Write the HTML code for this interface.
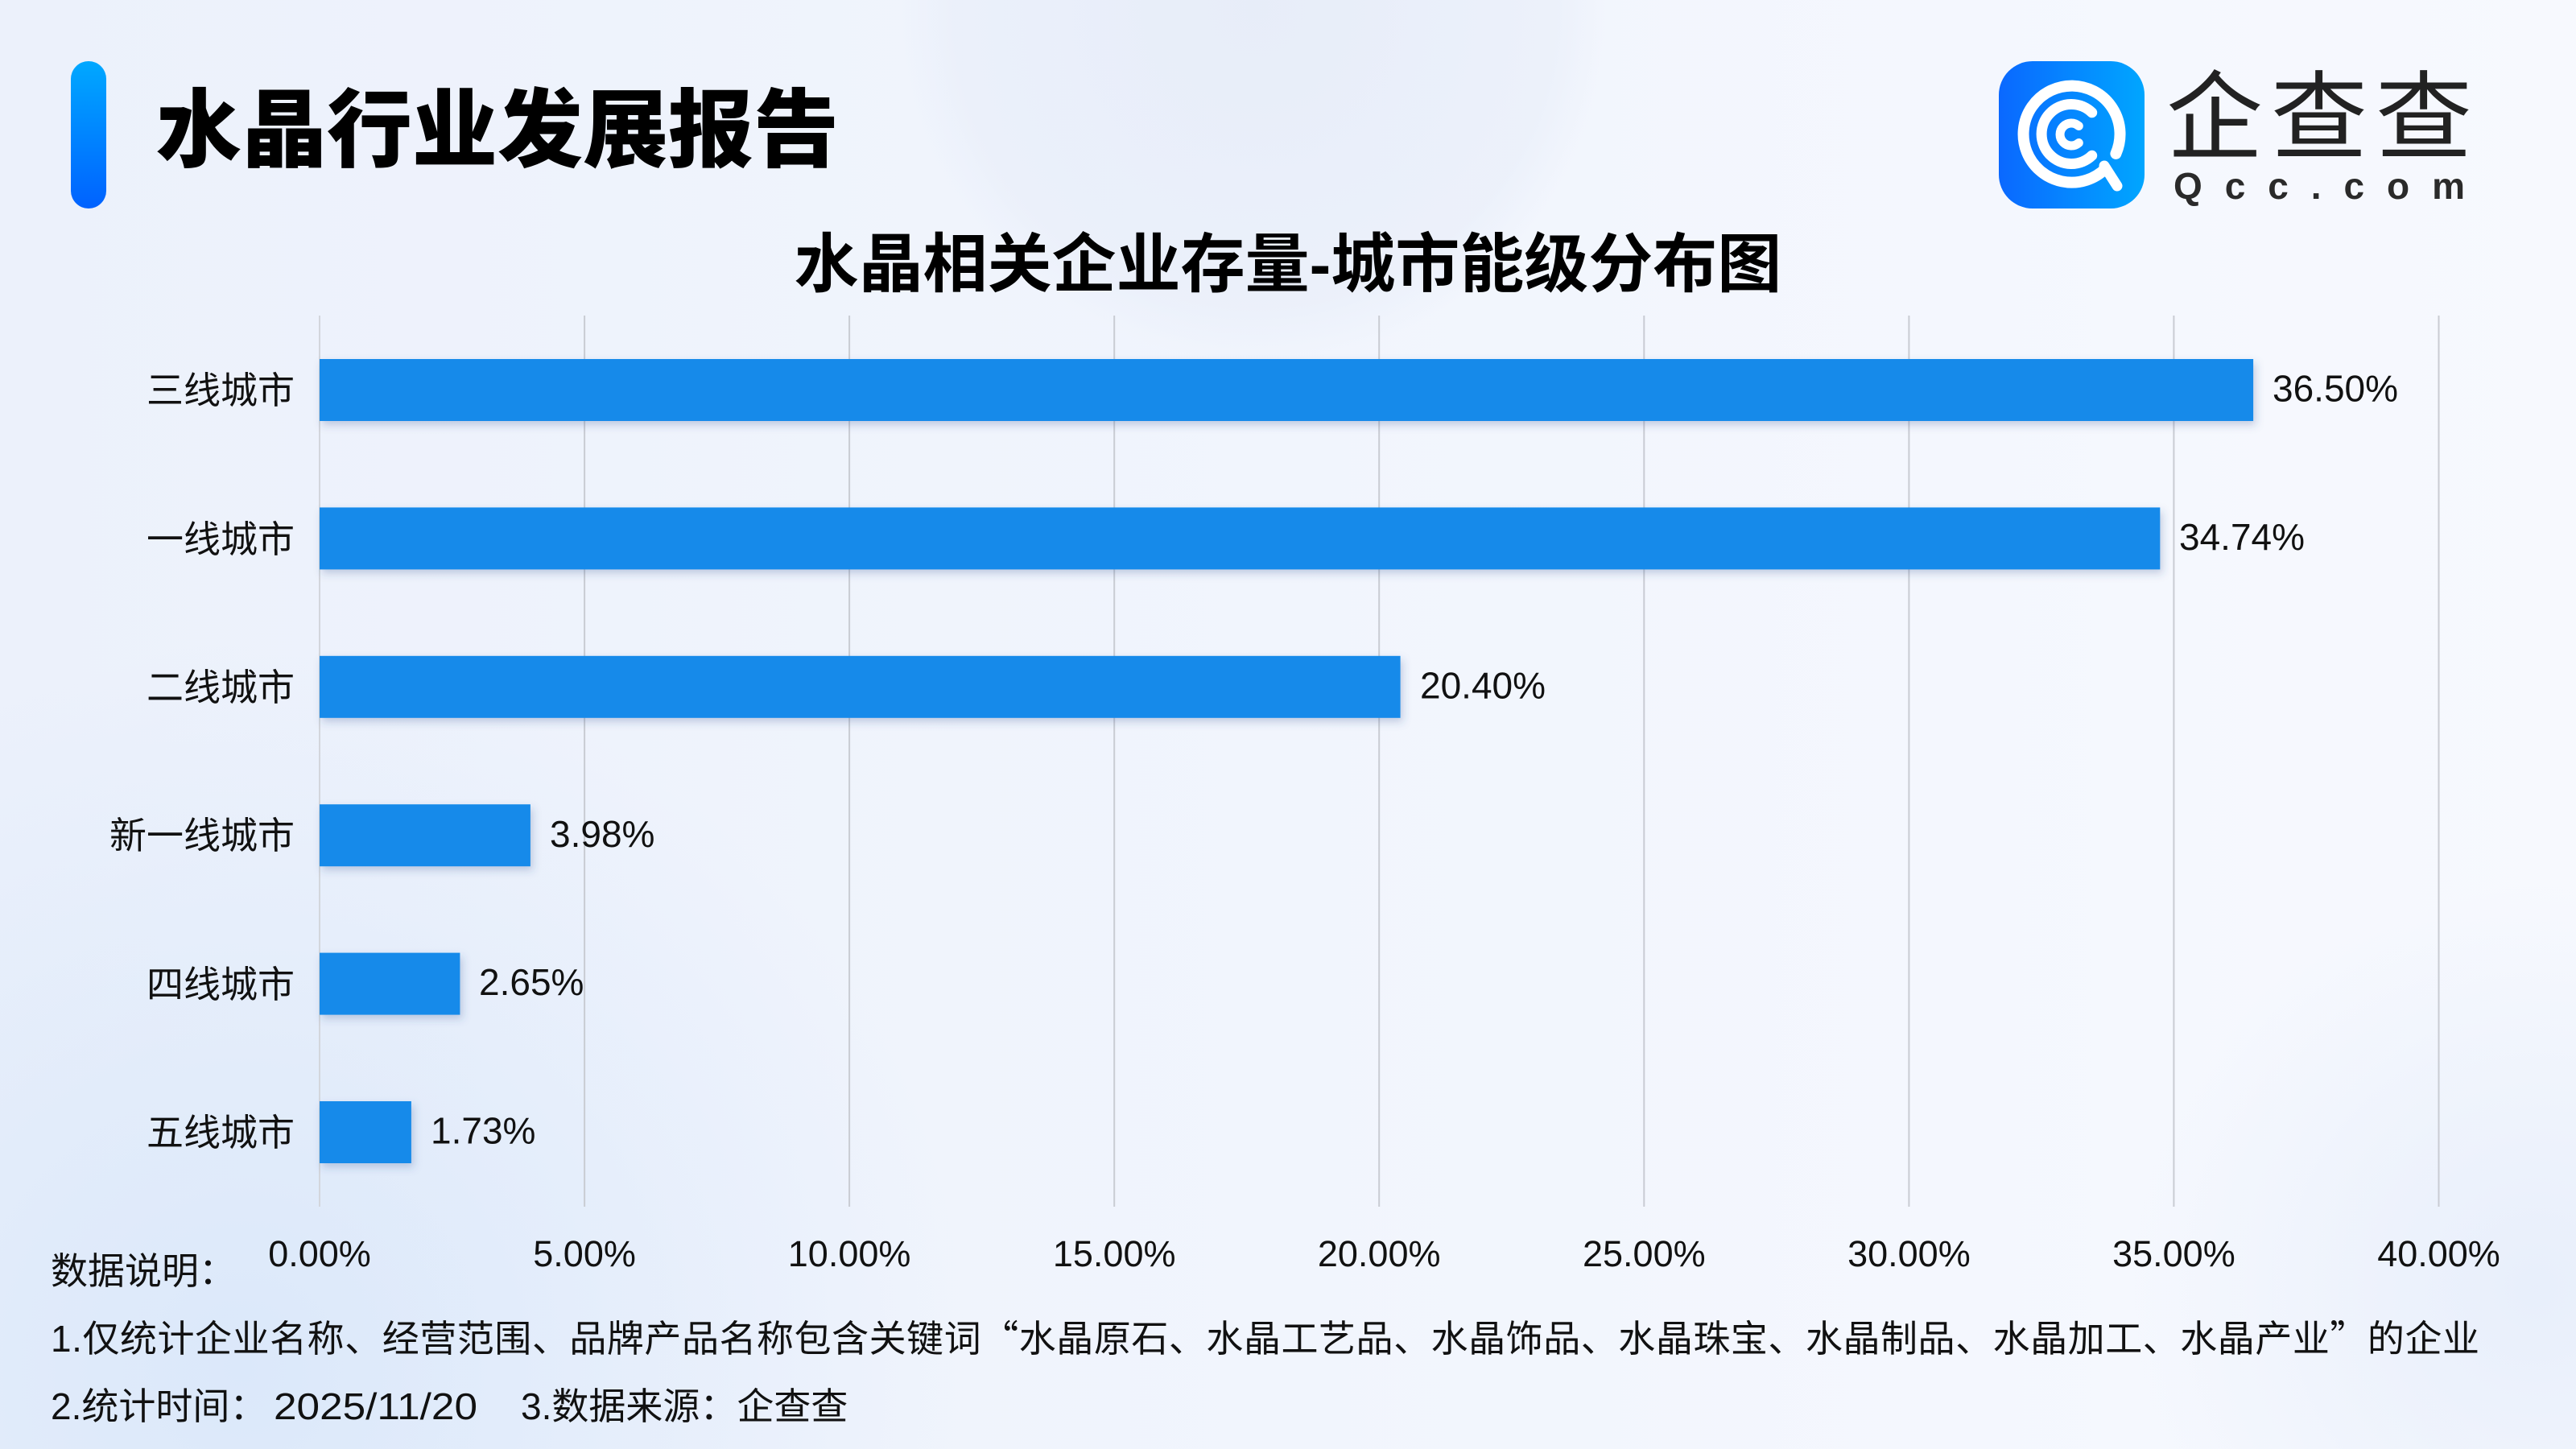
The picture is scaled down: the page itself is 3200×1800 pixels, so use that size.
<!DOCTYPE html>
<html>
<head>
<meta charset="utf-8">
<style>
html,body{margin:0;padding:0;width:3200px;height:1800px;overflow:hidden;}
svg{display:block;}
text{font-family:"Liberation Sans","Noto Sans CJK SC",sans-serif;fill:#111;}
.cjk{font-family:"Noto Sans CJK SC","Liberation Sans",sans-serif;}
</style>
</head>
<body>
<svg width="3200" height="1800" viewBox="0 0 3200 1800" xmlns="http://www.w3.org/2000/svg">
<defs>
  <linearGradient id="bg" x1="0" y1="0" x2="1" y2="0">
    <stop offset="0" stop-color="#ECF1FB"/>
    <stop offset="0.5" stop-color="#F1F5FD"/>
    <stop offset="1" stop-color="#F7F9FE"/>
  </linearGradient>
  <radialGradient id="blobBL" cx="300" cy="1700" r="900" gradientUnits="userSpaceOnUse">
    <stop offset="0" stop-color="#D9E7FA" stop-opacity="0.9"/>
    <stop offset="1" stop-color="#D9E7FA" stop-opacity="0"/>
  </radialGradient>
  <radialGradient id="blobTC" cx="1560" cy="10" r="440" gradientUnits="userSpaceOnUse">
    <stop offset="0" stop-color="#E6ECF8" stop-opacity="0.9"/>
    <stop offset="0.85" stop-color="#E6ECF8" stop-opacity="0.5"/>
    <stop offset="1" stop-color="#E6ECF8" stop-opacity="0"/>
  </radialGradient>
  <radialGradient id="blobBR" cx="3150" cy="1600" r="500" gradientUnits="userSpaceOnUse">
    <stop offset="0" stop-color="#E4ECFA" stop-opacity="0.8"/>
    <stop offset="1" stop-color="#E4ECFA" stop-opacity="0"/>
  </radialGradient>
  <linearGradient id="accent" x1="0" y1="0" x2="0" y2="1">
    <stop offset="0" stop-color="#00A8FF"/>
    <stop offset="1" stop-color="#0062FF"/>
  </linearGradient>
  <linearGradient id="logo" x1="0" y1="0" x2="1" y2="0">
    <stop offset="0" stop-color="#0A68FF"/>
    <stop offset="1" stop-color="#00A6FF"/>
  </linearGradient>
  <filter id="sh" x="-10%" y="-30%" width="130%" height="180%">
    <feDropShadow dx="3" dy="5" stdDeviation="5" flood-color="#34508F" flood-opacity="0.25"/>
  </filter>
</defs>

<!-- background -->
<rect x="0" y="0" width="3200" height="1800" fill="url(#bg)"/>
<rect x="0" y="0" width="3200" height="1800" fill="url(#blobBL)"/>
<rect x="0" y="0" width="3200" height="1800" fill="url(#blobTC)"/>
<rect x="0" y="0" width="3200" height="1800" fill="url(#blobBR)"/>

<!-- header -->
<rect x="88" y="76" width="44" height="183" rx="22" ry="22" fill="url(#accent)"/>
<text x="194" y="199" font-size="106" font-weight="900" class="cjk" style="fill:#000">水晶行业发展报告</text>

<!-- logo -->
<rect x="2483" y="76" width="181" height="183" rx="42" ry="42" fill="url(#logo)"/>
<g fill="none" stroke="#ffffff" stroke-linecap="round">
  <path d="M 2615.5 209.5 A 60 60 0 1 1 2628.4 190.9" stroke-width="14"/>
  <path d="M 2614 206 L 2630 231" stroke-width="13"/>
  <path d="M 2598.7 139.8 A 37 37 0 1 0 2598.7 193.2" stroke-width="13"/>
  <path d="M 2582.3 156.5 A 14 14 0 1 0 2582.3 177.5" stroke-width="11"/>
</g>
<text x="2691" y="188" font-size="120" letter-spacing="10" class="cjk" style="fill:#222">企查查</text>
<text x="2700" y="247" font-size="46" font-weight="700" textLength="362" lengthAdjust="spacing" style="fill:#2a2a2a">Qcc.com</text>

<!-- chart title -->
<text x="1600" y="356" font-size="80" font-weight="700" text-anchor="middle" style="fill:#000">水晶相关企业存量-城市能级分布图</text>

<!-- gridlines -->
<g stroke-width="2">
  <line x1="397" y1="392" x2="397" y2="1499" stroke="#D3D6DC"/>
  <line x1="726.1" y1="392" x2="726.1" y2="1499" stroke="#C9CCD3"/>
  <line x1="1055.1" y1="392" x2="1055.1" y2="1499" stroke="#C9CCD3"/>
  <line x1="1384.2" y1="392" x2="1384.2" y2="1499" stroke="#C9CCD3"/>
  <line x1="1713.2" y1="392" x2="1713.2" y2="1499" stroke="#C9CCD3"/>
  <line x1="2042.3" y1="392" x2="2042.3" y2="1499" stroke="#C9CCD3"/>
  <line x1="2371.4" y1="392" x2="2371.4" y2="1499" stroke="#C9CCD3"/>
  <line x1="2700.4" y1="392" x2="2700.4" y2="1499" stroke="#C9CCD3"/>
  <line x1="3029.5" y1="392" x2="3029.5" y2="1499" stroke="#C9CCD3"/>
</g>

<!-- bars -->
<g fill="#158AEA" filter="url(#sh)">
  <rect x="397" y="446" width="2402.1" height="77"/>
  <rect x="397" y="630.4" width="2286.3" height="77"/>
  <rect x="397" y="814.8" width="1342.6" height="77"/>
  <rect x="397" y="999.2" width="261.9" height="77"/>
  <rect x="397" y="1183.6" width="174.4" height="77"/>
  <rect x="397" y="1368" width="113.9" height="77"/>
</g>

<!-- category labels -->
<g font-size="46" text-anchor="end">
  <text x="366" y="501">三线城市</text>
  <text x="366" y="686">一线城市</text>
  <text x="366" y="870">二线城市</text>
  <text x="366" y="1054">新一线城市</text>
  <text x="366" y="1239">四线城市</text>
  <text x="366" y="1423">五线城市</text>
</g>

<!-- value labels -->
<g font-size="46">
  <text x="2823" y="498.5">36.50%</text>
  <text x="2707" y="683">34.74%</text>
  <text x="1764" y="867.5">20.40%</text>
  <text x="683" y="1052">3.98%</text>
  <text x="595" y="1236">2.65%</text>
  <text x="535" y="1420.5">1.73%</text>
</g>

<!-- x axis labels -->
<g font-size="45" text-anchor="middle">
  <text x="397" y="1573">0.00%</text>
  <text x="726.1" y="1573">5.00%</text>
  <text x="1055.1" y="1573">10.00%</text>
  <text x="1384.2" y="1573">15.00%</text>
  <text x="1713.2" y="1573">20.00%</text>
  <text x="2042.3" y="1573">25.00%</text>
  <text x="2371.4" y="1573">30.00%</text>
  <text x="2700.4" y="1573">35.00%</text>
  <text x="3029.5" y="1573">40.00%</text>
</g>

<!-- footnotes -->
<g font-size="46">
  <text x="63" y="1595">数据说明：</text>
  <text x="63" y="1679" textLength="3017" lengthAdjust="spacing">1.仅统计企业名称、经营范围、品牌产品名称包含关键词<tspan class="cjk">“</tspan>水晶原石、水晶工艺品、水晶饰品、水晶珠宝、水晶制品、水晶加工、水晶产业<tspan class="cjk">”</tspan>的企业</text>
  <text x="63" y="1763">2.统计时间：</text>
  <text x="340" y="1763" textLength="253" lengthAdjust="spacingAndGlyphs">2025/11/20</text>
  <text x="647" y="1763">3.数据来源：企查查</text>
</g>
</svg>
</body>
</html>
